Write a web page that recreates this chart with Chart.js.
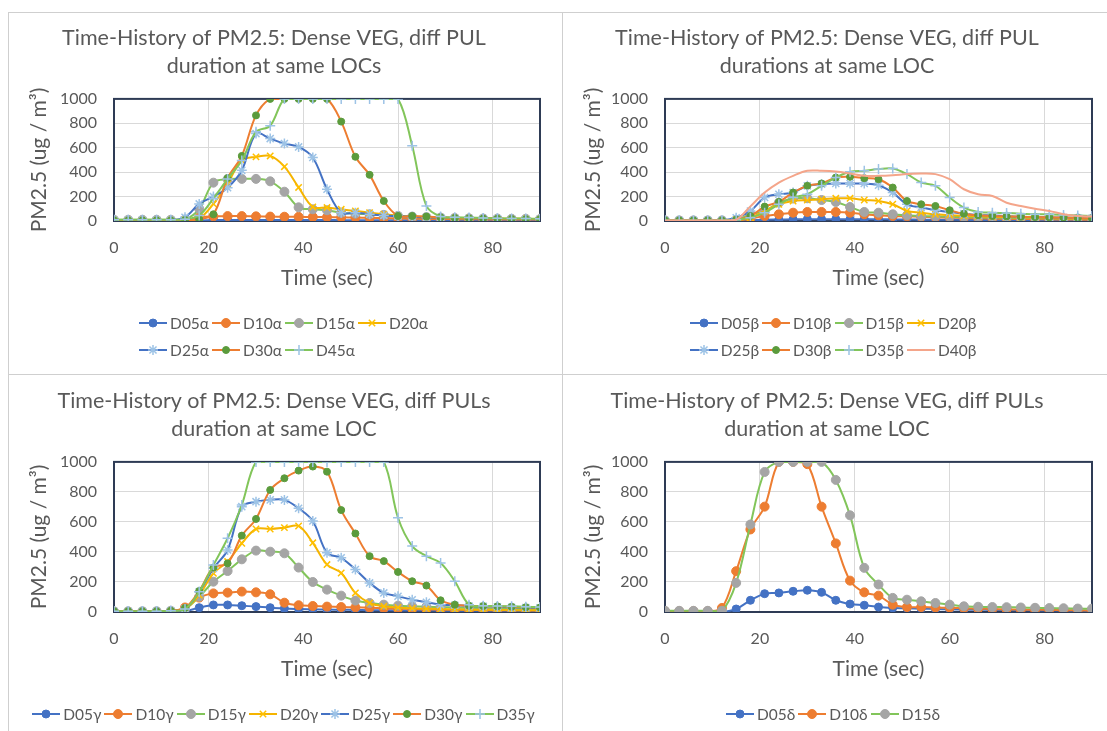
<!DOCTYPE html>
<html>
<head>
<meta charset="utf-8">
<script src="https://cdn.jsdelivr.net/npm/chart.js@4.4.1/dist/chart.umd.min.js"></script>
<style>
    html, body { margin: 0; padding: 0; background: #fff; }
    body { width: 1107px; height: 731px; position: relative; overflow: hidden; font-family: Lato, "Open Sans", sans-serif; }
    .panel { position: absolute; }
    .panel > canvas { position: absolute; left: 0; top: 0; }
    .rule { position: absolute; background: #cfcfcf; }
    .legend { position: absolute; left: 0; right: 0; display: grid; justify-content: center; grid-auto-rows: 27px; color: #595959; font-size: 15.5px; }
    .legend .item { display: flex; align-items: center; margin-right: 3px; white-space: nowrap; }
    .legend .item canvas { margin-right: 3px; }
</style>
</head>
<body>

<div class="rule" style="left:8px; top:12px; width:1099px; height:1px;"></div>
<div class="rule" style="left:8px; top:374px; width:1099px; height:1px;"></div>
<div class="rule" style="left:8px; top:12px; width:1px; height:719px;"></div>
<div class="rule" style="left:562px; top:12px; width:1px; height:719px;"></div>

<div class="panel" id="p1" style="left:8px; top:12px; width:554px; height:362px;"></div>
<div class="panel" id="p2" style="left:562px; top:12px; width:545px; height:362px;"></div>
<div class="panel" id="p3" style="left:8px; top:374px; width:554px; height:357px;"></div>
<div class="panel" id="p4" style="left:562px; top:374px; width:545px; height:357px;"></div>

<script>

// =========================================
// DATA
// =========================================

var seconds = [0, 3, 6, 9, 12, 15, 18, 21, 24, 27, 30, 33, 36, 39, 42, 45, 48, 51, 54, 57, 60, 63, 66, 69, 72, 75, 78, 81, 84, 87, 90];
var xTickValues = [0, 20, 40, 60, 80];
var yTickValues = [0, 200, 400, 600, 800, 1000];

// panel 1 (alpha)
var alphaNames = ["D05α", "D10α", "D15α", "D20α", "D25α", "D30α", "D45α"];
var alphaD05 = [0, 0, 0, 0, 0, 0, 5, 8, 8, 8, 8, 8, 8, 8, 8, 8, 7, 7, 7, 6, 6, 6, 5, 5, 5, 5, 5, 5, 5, 5, 5];
var alphaD10 = [0, 0, 0, 0, 0, 2, 30, 38, 40, 40, 38, 36, 35, 34, 33, 32, 30, 28, 26, 24, 22, 20, 18, 16, 15, 14, 13, 12, 12, 12, 12];
var alphaD15 = [10, 10, 10, 10, 10, 12, 100, 314, 342, 345, 345, 325, 240, 112, 96, 88, 68, 60, 55, 50, 42, 36, 32, 28, 25, 22, 20, 20, 18, 18, 16];
var alphaD20 = [8, 8, 8, 8, 8, 10, 20, 140, 306, 497, 525, 533, 445, 275, 115, 110, 96, 82, 68, 55, 42, 36, 32, 28, 25, 22, 20, 20, 18, 18, 16];
var alphaD25 = [8, 8, 8, 8, 8, 30, 140, 200, 272, 415, 716, 675, 634, 607, 520, 260, 68, 68, 55, 45, 40, 35, 30, 28, 25, 22, 20, 18, 16, 15, 15];
var alphaD30 = [5, 5, 5, 5, 5, 8, 15, 55, 352, 533, 865, 1000, 1000, 1000, 1000, 1000, 814, 526, 378, 164, 41, 41, 36, 30, 25, 22, 20, 18, 16, 15, 15];
var alphaD45 = [10, 10, 10, 10, 10, 15, 45, 185, 345, 495, 730, 780, 1000, 1000, 1000, 1000, 1000, 1000, 1000, 1000, 1000, 616, 123, 36, 30, 28, 25, 22, 20, 20, 18];

// panel 2 (beta)
var betaNames = ["D05β", "D10β", "D15β", "D20β", "D25β", "D30β", "D35β", "D40β"];
var betaD05 = [0, 0, 0, 0, 0, 2, 5, 10, 12, 14, 15, 15, 15, 15, 15, 14, 13, 12, 11, 10, 10, 9, 9, 8, 8, 8, 7, 7, 7, 7, 7];
var betaD10 = [0, 0, 0, 0, 0, 3, 19, 41, 55, 68, 74, 74, 74, 68, 55, 47, 41, 38, 35, 30, 28, 25, 22, 20, 18, 16, 15, 14, 12, 12, 10];
var betaD15 = [5, 5, 5, 5, 5, 10, 55, 82, 150, 184, 186, 172, 156, 115, 74, 68, 55, 47, 41, 38, 35, 32, 30, 28, 26, 25, 24, 22, 20, 20, 18];
var betaD20 = [5, 5, 5, 5, 5, 8, 27, 82, 137, 164, 172, 178, 186, 186, 172, 164, 137, 82, 68, 55, 48, 42, 38, 35, 32, 30, 28, 25, 22, 20, 18];
var betaD25 = [5, 5, 5, 5, 5, 27, 82, 192, 219, 233, 288, 301, 307, 307, 307, 293, 233, 137, 110, 88, 74, 60, 50, 45, 40, 35, 32, 30, 28, 25, 22];
var betaD30 = [5, 5, 5, 5, 5, 10, 41, 118, 156, 233, 288, 307, 356, 362, 351, 342, 274, 164, 137, 123, 88, 60, 47, 41, 38, 35, 32, 30, 28, 25, 22];
var betaD35 = [5, 5, 5, 5, 5, 10, 27, 68, 137, 192, 219, 288, 356, 403, 411, 425, 430, 384, 315, 288, 192, 110, 74, 68, 65, 60, 55, 55, 50, 45, 40];
var betaD40 = [5, 5, 5, 5, 5, 10, 120, 233, 315, 370, 411, 411, 405, 389, 370, 370, 375, 384, 389, 384, 342, 260, 219, 205, 150, 123, 100, 82, 55, 41, 36];

// panel 3 (gamma)
var gammaNames = ["D05γ", "D10γ", "D15γ", "D20γ", "D25γ", "D30γ", "D35γ"];
var gammaD05 = [0, 0, 0, 0, 0, 5, 29, 47, 47, 42, 36, 29, 24, 20, 18, 16, 15, 14, 12, 12, 10, 10, 10, 9, 9, 8, 8, 8, 8, 8, 8];
var gammaD10 = [0, 0, 0, 0, 2, 30, 96, 124, 129, 136, 131, 118, 62, 45, 40, 36, 33, 31, 28, 25, 22, 20, 18, 16, 15, 14, 13, 12, 12, 11, 10];
var gammaD15 = [5, 5, 5, 5, 8, 20, 102, 202, 273, 351, 409, 402, 391, 296, 200, 149, 109, 76, 60, 49, 42, 38, 35, 32, 30, 28, 25, 22, 20, 20, 18];
var gammaD20 = [5, 5, 5, 5, 8, 20, 113, 258, 336, 458, 553, 553, 562, 573, 461, 316, 260, 127, 60, 38, 30, 25, 22, 20, 18, 16, 15, 14, 13, 12, 12];
var gammaD25 = [5, 5, 5, 5, 8, 20, 135, 291, 413, 702, 735, 747, 747, 691, 606, 394, 361, 283, 194, 127, 105, 82, 65, 49, 45, 40, 38, 35, 32, 30, 28];
var gammaD30 = [5, 5, 5, 5, 8, 27, 140, 296, 324, 509, 620, 813, 891, 942, 969, 935, 679, 523, 372, 339, 267, 205, 176, 78, 49, 42, 40, 38, 35, 32, 30];
var gammaD35 = [5, 5, 5, 5, 8, 20, 135, 313, 491, 713, 1000, 1000, 1000, 1000, 1000, 1000, 1000, 1000, 1000, 1000, 628, 439, 372, 327, 205, 49, 42, 40, 38, 35, 33];

// panel 4 (delta)
var deltaNames = ["D05δ", "D10δ", "D15δ"];
var deltaD05 = [0, 0, 0, 0, 0, 20, 78, 122, 127, 138, 145, 131, 78, 53, 45, 33, 27, 25, 22, 20, 18, 16, 15, 14, 12, 12, 10, 10, 10, 8, 8];
var deltaD10 = [5, 5, 5, 5, 27, 272, 550, 702, 1000, 1000, 985, 702, 457, 209, 131, 109, 49, 33, 33, 30, 28, 25, 22, 20, 18, 16, 15, 14, 12, 12, 10];
var deltaD15 = [8, 8, 8, 8, 8, 194, 583, 933, 1000, 1000, 1000, 1000, 880, 644, 294, 183, 94, 82, 71, 60, 49, 38, 35, 33, 32, 30, 28, 26, 25, 23, 22];

// =========================================
// STYLES
// =========================================

var TEXT = "#595959";
var FONT = "Lato, 'Open Sans', sans-serif";

var seriesStyle = {
    D05: { line: "#4472C4", mark: "#4472C4", shape: "circle", r: 4 },
    D10: { line: "#ED7D31", mark: "#ED7D31", shape: "circle", r: 4.5 },
    D15: { line: "#82C55A", mark: "#A5A5A5", shape: "circle", r: 4.5 },
    D20: { line: "#F5B400", mark: "#FFC000", shape: "crossRot", r: 4.5 },
    D25: { line: "#4472C4", mark: "#9DC3E6", shape: "star", r: 5 },
    D30: { line: "#ED7D31", mark: "#5B9B3C", shape: "circle", r: 3.5 },
    D35: { line: "#82C55A", mark: "#9DC3E6", shape: "cross", r: 5 },
    D40: { line: "#F4A58A", mark: "#F4A58A", shape: false, r: 0 },
    D45: { line: "#82C55A", mark: "#9DC3E6", shape: "cross", r: 5 }
};

var panels = [
    {
        id: "p1", w: 554, h: 362, names: alphaNames,
        series: [alphaD05, alphaD10, alphaD15, alphaD20, alphaD25, alphaD30, alphaD45],
        title: ["Time-History of PM2.5: Dense VEG, diff PUL", "duration at same LOCs"],
        plotLeft: 106, padRight: 22, tTop: 12, tBottom: 19, xAxisH: 153, xTitlePad: 83,
        legendTop: 297, legendCols: 4
    },
    {
        id: "p2", w: 545, h: 362, names: betaNames,
        series: [betaD05, betaD10, betaD15, betaD20, betaD25, betaD30, betaD35, betaD40],
        title: ["Time-History of PM2.5: Dense VEG, diff PUL", "durations at same LOC"],
        plotLeft: 103, padRight: 15, tTop: 12, tBottom: 19, xAxisH: 153, xTitlePad: 83,
        legendTop: 297, legendCols: 4
    },
    {
        id: "p3", w: 554, h: 357, names: gammaNames,
        series: [gammaD05, gammaD10, gammaD15, gammaD20, gammaD25, gammaD30, gammaD35],
        title: ["Time-History of PM2.5: Dense VEG, diff PULs", "duration at same LOC"],
        plotLeft: 106, padRight: 22, tTop: 13, tBottom: 19, xAxisH: 119, xTitlePad: 49,
        legendTop: 326, legendCols: 7
    },
    {
        id: "p4", w: 545, h: 357, names: deltaNames,
        series: [deltaD05, deltaD10, deltaD15],
        title: ["Time-History of PM2.5: Dense VEG, diff PULs", "duration at same LOC"],
        plotLeft: 103, padRight: 15, tTop: 13, tBottom: 19, xAxisH: 119, xTitlePad: 49,
        legendTop: 326, legendCols: 3
    }
];

// plot area border (drawn under the lines)
var plotFrame = {
    id: "plotFrame",
    beforeDatasetsDraw: function (chart) {
        var a = chart.chartArea;
        var ctx = chart.ctx;
        ctx.save();
        ctx.strokeStyle = "#2E3B55";
        ctx.lineWidth = 2;
        ctx.strokeRect(a.left, a.top, a.right - a.left, a.bottom - a.top);
        ctx.restore();
    }
};

function styleFor(name) {
    return seriesStyle[name.substring(0, 3)];
}

function legendIcon(st) {
    var c = document.createElement("canvas");
    c.width = 28;
    c.height = 16;
    var ctx = c.getContext("2d");
    ctx.strokeStyle = st.line;
    ctx.lineWidth = 2;
    ctx.beginPath();
    ctx.moveTo(0, 8);
    ctx.lineTo(28, 8);
    ctx.stroke();
    if (st.shape && Chart.helpers && Chart.helpers.drawPoint) {
        ctx.fillStyle = st.mark;
        ctx.strokeStyle = st.mark;
        ctx.lineWidth = st.shape === "circle" ? 1 : 1.5;
        Chart.helpers.drawPoint(ctx, {
            pointStyle: st.shape,
            radius: st.r,
            rotation: 0,
            borderWidth: ctx.lineWidth
        }, 14, 8);
    }
    return c;
}

function buildPanel(p) {

    var holder = document.getElementById(p.id);

    var canvas = document.createElement("canvas");
    canvas.width = p.w;
    canvas.height = p.h;
    holder.appendChild(canvas);

    var n = p.series.length;

    var datasets = p.series.map(function (values, i) {
        var st = styleFor(p.names[i]);
        return {
            label: p.names[i],
            data: seconds.map(function (t, k) { return { x: t, y: values[k] }; }),
            borderColor: st.line,
            backgroundColor: st.mark,
            borderWidth: 2,
            tension: 0.35,
            pointStyle: st.shape || "circle",
            pointRadius: st.r,
            pointBackgroundColor: st.mark,
            pointBorderColor: st.mark,
            pointBorderWidth: st.shape === "circle" ? 1 : 1.5,
            order: n - i
        };
    });

    new Chart(canvas, {
        type: "line",
        data: { datasets: datasets },
        plugins: [plotFrame],
        options: {
            responsive: false,
            animation: false,
            devicePixelRatio: 1,
            layout: { padding: { left: 0, right: p.padRight, top: 0, bottom: 0 } },
            plugins: {
                legend: { display: false },
                tooltip: { enabled: false },
                title: {
                    display: true,
                    text: p.title,
                    color: TEXT,
                    font: { family: FONT, size: 21.5, weight: "normal", lineHeight: 1.3 },
                    padding: { top: p.tTop, bottom: p.tBottom }
                }
            },
            scales: {
                x: {
                    type: "linear",
                    min: 0,
                    max: 90,
                    afterBuildTicks: function (s) {
                        s.ticks = xTickValues.map(function (v) { return { value: v }; });
                    },
                    afterFit: function (s) { s.height = p.xAxisH; },
                    grid: { color: "#D9D9D9", drawTicks: false },
                    border: { display: false },
                    ticks: {
                        padding: 17, color: TEXT, maxRotation: 0,
                        font: { family: FONT, size: 16 },
                        callback: function (v) { return String(v); }
                    },
                    title: {
                        display: true,
                        text: "Time (sec)",
                        color: TEXT,
                        font: { family: FONT, size: 21 },
                        padding: { top: 0, bottom: p.xTitlePad }
                    }
                },
                y: {
                    type: "linear",
                    min: 0,
                    max: 1000,
                    afterBuildTicks: function (s) {
                        s.ticks = yTickValues.map(function (v) { return { value: v }; });
                    },
                    afterFit: function (s) { s.width = p.plotLeft; },
                    grid: { color: "#D9D9D9", drawTicks: false },
                    border: { display: false },
                    ticks: {
                        padding: 17, color: TEXT,
                        font: { family: FONT, size: 16 },
                        callback: function (v) { return String(v); }
                    },
                    title: {
                        display: true,
                        text: "PM2.5 (ug / m³)",
                        color: TEXT,
                        font: { family: FONT, size: 21 },
                        padding: { top: 19, bottom: 0 }
                    }
                }
            }
        }
    });

    // =========================================
    // LEGEND (line + marker, Excel style)
    // =========================================

    var legend = document.createElement("div");
    legend.className = "legend";
    legend.style.top = p.legendTop + "px";
    legend.style.gridTemplateColumns = "repeat(" + p.legendCols + ", auto)";

    p.names.forEach(function (name) {
        var item = document.createElement("div");
        item.className = "item";
        item.appendChild(legendIcon(styleFor(name)));
        var txt = document.createElement("span");
        txt.textContent = name;
        item.appendChild(txt);
        legend.appendChild(item);
    });

    holder.appendChild(legend);
}

panels.forEach(buildPanel);

</script>
</body>
</html>
